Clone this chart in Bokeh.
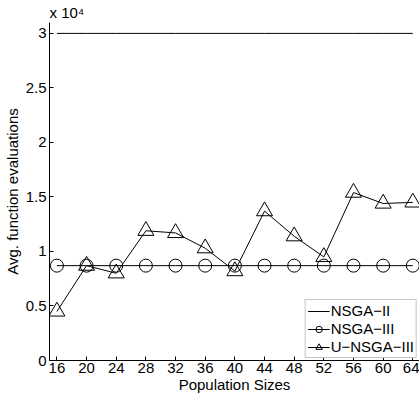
from bokeh.plotting import figure
from bokeh.models import Range1d, FixedTicker, Legend, LegendItem
from bokeh.embed import file_html
from bokeh.resources import INLINE

pop_sizes = [16, 20, 24, 28, 32, 36, 40, 44, 48, 52, 56, 60, 64]
nsga2 = [30000] * 13
nsga3 = [8700] * 13
unsga3 = [4500, 8700, 8000, 11900, 11700, 10300, 8200, 13700, 11400, 9500, 15400, 14400, 14500]
y_ticks = [0, 5000, 10000, 15000, 20000, 25000, 30000]
y_tick_labels = ["0", "0.5", "1", "1.5", "2", "2.5", "3"]
x_ticks = pop_sizes

FONT = "Liberation Sans"

p = figure(width=419, height=396, output_backend="svg", toolbar_location=None,
           x_range=Range1d(15, 64.9), y_range=Range1d(0, 31000),
           title="x 10\u2074",
           min_border_left=44, min_border_right=0, min_border_top=3, min_border_bottom=36)
p.outline_line_color = None
p.grid.visible = False
p.background_fill_color = "white"
p.border_fill_color = "white"

p.title.text_font = FONT
p.title.text_font_size = "15px"
p.title.text_font_style = "normal"
p.title.text_color = "black"
p.title.align = "left"
p.title.offset = 0
p.title.standoff = 3

for ax in (p.xaxis[0], p.yaxis[0]):
    ax.major_tick_in = 4
    ax.major_tick_out = 0
    ax.minor_tick_line_color = None
    ax.axis_line_color = "black"
    ax.major_tick_line_color = "black"
    ax.major_label_text_font = FONT
    ax.major_label_text_font_size = "15px"
    ax.major_label_text_color = "black"
    ax.axis_label_text_font = FONT
    ax.axis_label_text_font_size = "15px"
    ax.axis_label_text_font_style = "normal"
    ax.axis_label_text_color = "black"
    ax.major_label_standoff = 3
    ax.axis_label_standoff = 2

p.xaxis.major_label_standoff = 2
p.xaxis.axis_label_standoff = 0

p.xaxis.ticker = FixedTicker(ticks=x_ticks)
p.yaxis.ticker = FixedTicker(ticks=y_ticks)
p.yaxis.major_label_overrides = {t: l for t, l in zip(y_ticks, y_tick_labels)}
p.xaxis.axis_label = "Population Sizes"
p.yaxis.axis_label = "Avg. function evaluations"

r1 = p.line(pop_sizes, nsga2, line_color="black", line_width=1)
r2l = p.line(pop_sizes, nsga3, line_color="black", line_width=1)
r2m = p.scatter(pop_sizes, nsga3, marker="circle", size=13, fill_color=None,
                line_color="black", line_width=1)
r3l = p.line(pop_sizes, unsga3, line_color="black", line_width=1)
r3m = p.scatter(pop_sizes, unsga3, marker="triangle", size=16, fill_color=None,
                line_color="black", line_width=1)

legend = Legend(items=[
    LegendItem(label="NSGA−II", renderers=[r1]),
    LegendItem(label="NSGA−III", renderers=[r2l, r2m]),
    LegendItem(label="U−NSGA−III", renderers=[r3l, r3m]),
], location="bottom_right")
legend.label_text_font = FONT
legend.label_text_font_size = "15px"
legend.label_text_color = "black"
legend.glyph_width = 22
legend.glyph_height = 16
legend.label_height = 16
legend.label_standoff = 1
legend.padding = 2
legend.spacing = 1
legend.margin = 2
legend.border_line_color = "#8c8c8c"
legend.border_line_width = 1
legend.background_fill_color = "white"
legend.background_fill_alpha = 1
p.add_layout(legend, "center")

open("out.html", "w").write(file_html(p, INLINE))
